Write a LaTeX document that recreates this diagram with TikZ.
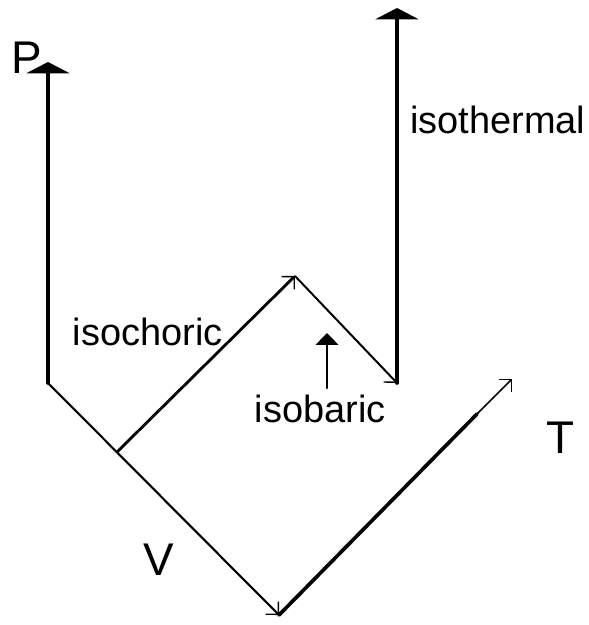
\documentclass[tikz,border=0pt]{standalone}
\usepackage{fontspec}
\setmainfont{Liberation Sans}
\usetikzlibrary{arrows.meta}

\begin{document}
\begin{tikzpicture}[x=0.025cm,y=-0.025cm,line cap=round,line join=round,
  lab/.style={anchor=base west,inner sep=0pt,font=\fontsize{27}{30}\selectfont},
  axlab/.style={anchor=base west,inner sep=0pt,font=\fontsize{32.6}{36}\selectfont},
  bigtip/.style={-{Triangle[width=30.5pt,length=8pt]}},
  barb/.style={-{Straight Barb[angle=90:9pt,line width=1pt]}}]
  \useasboundingbox (0,0) rectangle (588,625);
  \coordinate (O) at (48,383);
  \coordinate (Pt) at (48,62);
  \coordinate (J) at (117,452);
  \coordinate (Vt) at (279,615);
  \coordinate (A) at (295,276);
  \coordinate (B) at (397,383);
  \coordinate (It) at (397,8);
  \coordinate (Tm) at (477,414);
  \coordinate (Tt) at (512,379);
  \coordinate (S0) at (327,388);
  \coordinate (S1) at (327,333);
  % axes
  \draw[line width=2.6pt,bigtip] (O) -- (Pt);
  \draw[line width=1.5pt,barb] (O) -- (Vt);
  \draw[line width=2.6pt] (Vt) -- (Tm);
  \draw[line width=1.2pt,barb] (Tm) -- (Tt);
  % processes
  \draw[line width=2pt,barb] (J) -- (A);
  \draw[line width=1.4pt,barb] (A) -- (B);
  \draw[line width=2.6pt,bigtip] (B) -- (It);
  \draw[line width=2pt,-{Triangle[width=16pt,length=8.5pt]}] (S0) -- (S1);
  \node[axlab] (Plab) at (11.5,73) {P};
  \node[axlab] (Vlab) at (143.5,575) {V};
  \node[axlab] (Tlab) at (546,453) {T};
  \node[lab] (isotherm) at (410,133) {isothermal};
  \node[lab] (isochor) at (72.5,345) {isochoric};
  \node[lab] (isobar) at (254.5,422) {isobaric};
\end{tikzpicture}
\end{document}
